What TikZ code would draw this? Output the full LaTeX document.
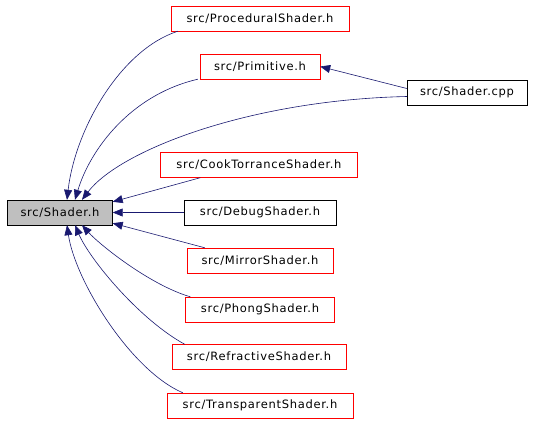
\documentclass[tikz,border=0pt]{standalone}
\usepackage{fontspec}
\setmainfont{DejaVu Sans}[LetterSpace=6]
\usetikzlibrary{arrows.meta}
\definecolor{edgeblue}{HTML}{191970}
\definecolor{boxgray}{HTML}{BFBFBF}

\begin{document}
\begin{tikzpicture}[x=1pt,y=-1pt,>={Triangle[length=10pt,width=8pt]},
        file/.style={draw=red,minimum height=25pt,inner sep=0pt,font=\fontsize{11.5}{13}\selectfont},
        plain/.style={file,draw=black},
        edge/.style={->,edgeblue,semithick}]
        \useasboundingbox (0,0) rectangle (533,421);
        \node[plain,fill=boxgray,minimum width=105pt] (shaderh) at (60,212.5) {src/Shader.h};
        \node[file,minimum width=178pt] (procedural) at (260,18.5) {src/ProceduralShader.h};
        \node[file,minimum width=120pt] (primitive) at (260,66.5) {src/Primitive.h};
        \node[plain,minimum width=120pt] (shadercpp) at (467,92.5) {src/Shader.cpp};
        \node[file,minimum width=197pt] (cooktorrance) at (259,165) {src/CookTorranceShader.h};
        \node[plain,minimum width=152pt] (debug) at (260,212.5) {src/DebugShader.h};
        \node[file,minimum width=146pt] (mirror) at (260,260.5) {src/MirrorShader.h};
        \node[file,minimum width=149pt] (phong) at (260,309.5) {src/PhongShader.h};
        \node[file,minimum width=174pt] (refractive) at (259,357) {src/RefractiveShader.h};
        \node[file,minimum width=186pt] (transparent) at (260,405.5) {src/TransparentShader.h};
        % include edges
        \draw[edge] ([xshift=7pt]procedural.south west) .. controls (120,50) and (75,130) .. ([xshift=7pt]shaderh.north);
        \draw[edge] ([xshift=-2pt]primitive.south west) .. controls (130,95) and (90,150) .. ([xshift=15pt]shaderh.north);
        \draw[edge] ([yshift=-4pt]shadercpp.west) .. controls (250,100) and (120,150) .. ([xshift=22pt]shaderh.north);
        \draw[edge] ([yshift=4pt]shadercpp.west) -- (primitive.east);
        \draw[edge] ([xshift=40pt]cooktorrance.south west) -- ([yshift=-2pt]shaderh.north east);
        \draw[edge] (debug) -- (shaderh);
        \draw[edge] ([xshift=18pt]mirror.north west) -- ([yshift=2pt]shaderh.south east);
        \draw[edge] ([xshift=5pt]phong.north west) .. controls (150,285) and (100,245) .. ([xshift=22pt]shaderh.south);
        \draw[edge] ([xshift=13pt]refractive.north west) .. controls (140,320) and (90,260) .. ([xshift=15pt]shaderh.south);
        \draw[edge] ([xshift=16pt]transparent.north west) .. controls (130,370) and (75,280) .. ([xshift=7pt]shaderh.south);
\end{tikzpicture}
\end{document}
